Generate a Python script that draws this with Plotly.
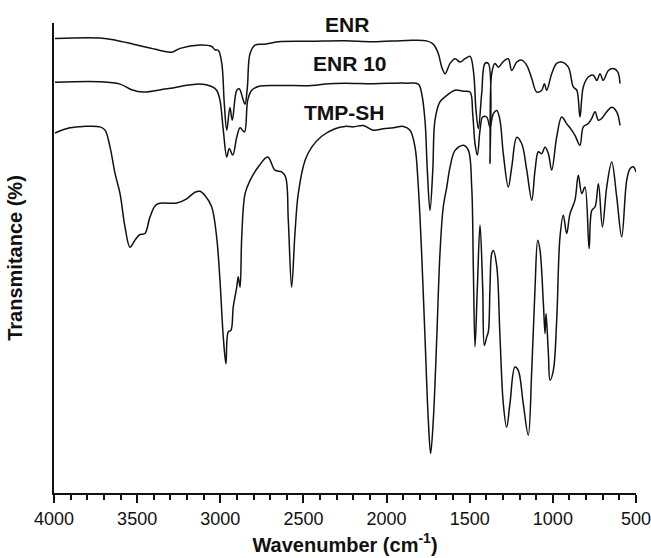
import plotly.graph_objects as go

# ENR spectrum (wavenumber cm-1, transmittance %)
enr_wn = [3994, 3723, 3623, 3523, 3423, 3292, 3242, 3122, 3052, 3032, 3012, 2991, 2976, 2961,
          2942, 2928, 2901, 2886, 2862, 2851, 2837, 2821, 2791, 2731, 2651, 2450, 2250, 2080,
          1879, 1759, 1719, 1689, 1668, 1648, 1618, 1588, 1558, 1528, 1498, 1478, 1462, 1448,
          1428, 1408, 1388, 1378, 1368, 1348, 1328, 1308, 1288, 1268, 1247, 1217, 1187, 1157,
          1127, 1097, 1067, 1051, 1037, 1007, 977, 947, 907, 877, 856, 837, 817, 787, 757,
          736, 716, 697, 666, 636, 610, 596]
enr_t = [96.7, 96.8, 96.3, 95.5, 94.7, 93.8, 94.6, 95.3, 95.0, 94.3, 94.2, 91.4, 82.9, 77.2,
         82.0, 79.3, 85.7, 86.0, 83.6, 82.7, 86.4, 93.5, 95.3, 95.5, 96.0, 96.1, 96.2, 96.0,
         96.3, 96.2, 95.5, 93.5, 90.6, 89.2, 91.4, 92.4, 91.7, 92.4, 92.9, 89.9, 81.4, 77.5,
         85.0, 91.4, 91.4, 70.1, 89.2, 91.4, 90.6, 91.4, 92.1, 92.4, 89.9, 91.7, 92.1, 91.0,
         88.2, 85.3, 85.7, 87.1, 85.7, 89.2, 91.4, 91.7, 90.6, 86.4, 85.7, 80.0, 86.4, 88.5, 88.9,
         87.8, 89.2, 87.8, 89.9, 90.3, 89.6, 87.1]

# ENR 10 spectrum
enr10_wn = [3994, 3723, 3603, 3533, 3463, 3322, 3122, 3052, 3022, 3002, 2982, 2961, 2946, 2925,
            2901, 2881, 2855, 2835, 2811, 2771, 2651, 2450, 2350, 2250, 2080, 1879, 1809, 1789,
            1769, 1755, 1739, 1722, 1709, 1679, 1638, 1588, 1538, 1498, 1482, 1468, 1454, 1438,
            1422, 1398, 1378, 1358, 1337, 1318, 1298, 1268, 1247, 1217, 1187, 1157, 1127, 1107,
            1087, 1067, 1047, 1027, 1007, 977, 947, 917, 887, 867, 837, 817, 787, 766, 746,
            726, 706, 676, 646, 616, 596]
enr10_t = [87.4, 87.5, 87.0, 85.8, 85.3, 86.0, 87.0, 86.5, 85.7, 83.6, 77.2, 71.5, 73.3, 71.9,
           75.7, 77.7, 76.8, 83.6, 85.7, 86.5, 86.7, 86.7, 87.1, 87.2, 87.1, 87.2, 87.0, 85.0,
           79.3, 68.7, 60.1, 68.7, 79.3, 83.2, 84.6, 85.7, 85.5, 85.3, 80.7, 74.3, 71.9, 77.2,
           80.0, 80.0, 77.9, 80.7, 81.4, 79.3, 72.2, 65.1, 69.4, 75.7, 74.3, 68.7, 62.3, 68.7,
           72.6, 72.2, 73.6, 72.2, 68.7, 75.7, 80.0, 78.6, 77.2, 76.1, 74.0, 77.9, 78.6, 79.7, 81.1,
           79.3, 79.7, 81.1, 82.1, 81.1, 78.2]

# TMP-SH spectrum
tmp_wn = [3994, 3904, 3824, 3723, 3693, 3663, 3633, 3603, 3573, 3543, 3513, 3483, 3453, 3423,
          3382, 3262, 3202, 3152, 3122, 3092, 3052, 3022, 3002, 2982, 2966, 2952, 2936, 2922,
          2901, 2892, 2881, 2871, 2851, 2821, 2771, 2715, 2671, 2631, 2607, 2591, 2571, 2551,
          2531, 2490, 2450, 2390, 2310, 2250, 2200, 2140, 2080, 2020, 1959, 1899, 1859, 1829,
          1809, 1789, 1769, 1749, 1735, 1719, 1698, 1679, 1659, 1638, 1618, 1588, 1538, 1508,
          1488, 1478, 1468, 1454, 1438, 1422, 1412, 1398, 1388, 1378, 1368, 1358, 1337, 1318,
          1298, 1278, 1258, 1228, 1208, 1178, 1148, 1127, 1107, 1091, 1077, 1057, 1047, 1041,
          1027, 1017, 997, 977, 957, 937, 917, 897, 867, 847, 826, 807, 782, 766, 746, 726,
          702, 676, 646, 616, 586, 556, 536, 516, 500]
tmp_t = [76.6, 77.7, 78.0, 77.9, 77.2, 73.6, 68.0, 63.7, 56.6, 52.3, 53.8, 55.0, 55.2, 58.7,
         61.4, 61.7, 62.6, 64.0, 64.2, 63.3, 60.9, 54.5, 45.3, 33.2, 27.5, 34.3, 34.6, 39.6,
         43.8, 46.0, 43.8, 54.5, 63.7, 66.5, 69.4, 71.5, 68.7, 68.3, 67.2, 58.0, 43.8, 55.2,
         63.7, 70.8, 73.6, 75.9, 77.5, 78.0, 77.9, 78.2, 77.2, 77.5, 77.7, 78.0, 77.2, 73.6,
         65.1, 50.9, 33.2, 15.5, 8.4, 15.5, 33.2, 50.9, 60.9, 65.1, 69.4, 72.9, 74.0, 72.9,
         65.1, 47.4, 31.1, 43.8, 57.0, 43.8, 31.4, 33.2, 34.3, 43.8, 50.9, 51.6, 48.1, 33.2,
         19.0, 14.0, 19.0, 26.8, 26.1, 19.0, 12.3, 26.1, 43.8, 53.8, 51.6, 40.3, 33.9, 38.2,
         29.7, 24.0, 26.1, 36.7, 54.5, 59.1, 55.2, 59.4, 62.3, 67.6, 63.7, 65.1, 52.0, 60.1, 60.9, 65.8,
         56.6, 65.1, 70.4, 63.0, 54.5, 66.5, 69.0, 69.4, 68.3]

labels = ["ENR", "ENR 10", "TMP-SH"]
label_wn = [2238, 2220, 2256]
label_t = [99.7, 91.4, 81.0]
tick_vals = [4000, 3500, 3000, 2500, 2000, 1500, 1000, 500]

FONT = "Liberation Sans, Arial, sans-serif"

fig = go.Figure()
for wn, t, name in [(enr_wn, enr_t, labels[0]), (enr10_wn, enr10_t, labels[1]), (tmp_wn, tmp_t, labels[2])]:
    fig.add_trace(go.Scatter(x=wn, y=t, mode="lines", name=name,
                             line=dict(color="#111111", width=1.5), line_shape="spline",
                             showlegend=False))

for name, x, y in zip(labels, label_wn, label_t):
    fig.add_annotation(x=x, y=y, text=f"<b>{name}</b>", showarrow=False,
                       font=dict(family=FONT, size=21, color="#111111"),
                       xanchor="center", yanchor="middle")

fig.update_layout(
    width=651, height=558,
    margin=dict(l=54, r=15, t=23, b=65, autoexpand=False),
    paper_bgcolor="white", plot_bgcolor="white",
    font=dict(family=FONT, color="#111111"),
)
fig.update_xaxes(
    range=[4000.01, 499.99], tickvals=tick_vals, ticktext=[str(v) for v in tick_vals],
    ticks="outside", ticklen=8, tickwidth=1.5, tickcolor="#111111", automargin=False,
    ticklabeloverflow="allow",
    minor=dict(dtick=100, ticks="outside", ticklen=5, tickwidth=1.5, tickcolor="#111111", showgrid=False),
    showline=True, linecolor="#111111", linewidth=2, showgrid=False, zeroline=False,
    tickfont=dict(family=FONT, size=18, color="#111111"),
    title=dict(text="<b>Wavenumber (cm<sup>-1</sup>)</b>", font=dict(family=FONT, size=20, color="#111111"),
               standoff=10),
)
fig.update_yaxes(
    range=[0, 100], showticklabels=False, ticks="", showline=True, linecolor="#111111",
    linewidth=2, showgrid=False, zeroline=False, automargin=False,
    title=dict(text="<b>Transmitance (%)</b>", font=dict(family=FONT, size=20, color="#111111"),
               standoff=24),
)

# remove the page's default body margin so the 651x558 figure fills the window exactly
fig.write_html("out.html", config={"displayModeBar": False},
               post_script="document.body.style.margin='0';document.body.style.overflow='hidden';")
